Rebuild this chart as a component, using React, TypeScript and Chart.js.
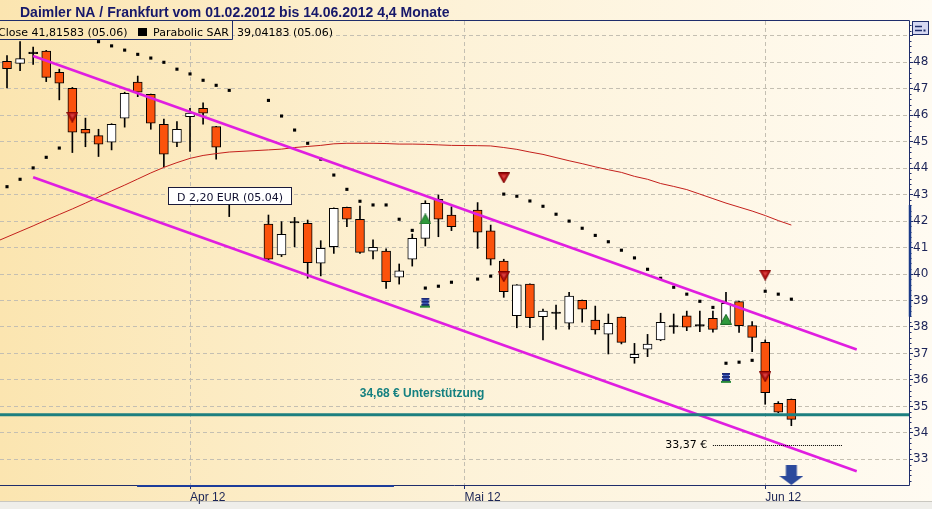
import React, { useEffect, useRef } from 'react';
import { Chart, registerables } from 'chart.js';
Chart.register(...registerables);

const W = 932;
const H = 509;

// trading-day index on a weekday axis (0 = 13.03.2012; 18, 19, 35 are holidays)
const dayIdx = [0,1,2,3,4,5,6,7,8,9,10,11,12,13,14,15,16,17,20,21,22,23,24,25,26,27,28,29,30,31,32,33,34,36,37,38,39,40,41,42,43,44,45,46,47,48,49,50,51,52,53,54,55,56,57,58,59,60];
const openV = [48.04,47.96,48.33,48.42,47.62,47.02,45.47,45.23,44.98,45.89,47.25,46.79,45.66,44.97,45.95,46.26,45.57,42.72,41.89,40.72,41.93,41.92,40.41,41.03,42.52,42.07,40.86,40.87,39.88,40.56,41.35,42.82,42.23,42.42,41.63,40.49,38.43,39.62,38.39,38.51,38.14,39.01,38.26,37.73,38.37,36.84,37.16,37.51,38.00,38.42,38.03,38.33,38.16,38.96,38.05,37.42,35.12,35.27];
const closeV = [47.76,48.14,48.35,47.43,47.21,45.36,45.32,44.91,45.66,46.83,46.87,45.70,44.53,45.47,46.08,46.08,44.79,42.70,40.56,41.50,41.95,40.43,40.97,42.48,42.07,40.82,41.01,39.71,40.12,41.35,42.67,42.07,41.79,41.58,40.56,39.33,39.59,38.35,38.60,38.53,39.17,38.67,37.89,38.14,37.42,36.97,37.35,38.18,38.02,37.99,38.05,37.91,38.89,38.05,37.61,35.52,34.78,34.51];
const highV = [48.25,48.78,48.57,48.45,47.74,47.05,45.89,45.47,45.68,46.87,47.48,46.80,45.85,45.76,46.26,46.47,45.58,42.72,42.23,41.98,42.14,42.04,41.26,42.50,42.53,42.57,41.29,40.95,40.38,41.51,42.77,42.99,42.54,42.70,41.85,40.56,39.60,39.63,38.68,38.83,39.31,39.02,38.79,38.49,38.38,37.38,37.72,38.52,38.49,38.60,38.60,38.60,39.31,38.98,38.20,37.51,35.18,35.28];
const lowV = [47.03,47.68,47.92,47.27,46.58,44.59,44.81,44.44,44.69,45.55,46.70,45.47,44.06,44.81,44.63,45.66,44.34,42.17,40.53,40.66,41.03,39.84,39.93,40.78,41.79,40.78,40.57,39.46,39.62,40.30,41.06,41.41,41.64,40.97,40.34,39.12,37.97,37.97,37.51,37.92,37.92,38.18,37.73,36.98,37.36,36.63,36.88,37.48,37.76,37.86,37.82,37.80,38.10,37.79,37.07,35.08,34.76,34.27];

// moving average of close ("Close")
const maIdx = [-1, ...dayIdx];
const maV = [41.19,41.40,41.61,41.82,42.04,42.25,42.46,42.68,42.91,43.14,43.36,43.59,43.82,44.03,44.21,44.37,44.48,44.55,44.61,44.69,44.72,44.78,44.82,44.86,44.92,44.94,44.94,44.94,44.93,44.91,44.91,44.90,44.88,44.86,44.85,44.84,44.78,44.71,44.61,44.52,44.40,44.28,44.17,44.05,43.94,43.84,43.69,43.58,43.42,43.31,43.19,43.02,42.85,42.68,42.53,42.38,42.21,42.02,41.85];

// Parabolic SAR, aligned with dayIdx
const sarV = [43.30,43.58,44.01,44.41,44.76,49.20,48.98,48.78,48.62,48.46,48.30,48.16,48.00,47.74,47.56,47.32,47.13,46.94,46.56,45.97,45.44,44.94,44.34,43.74,43.20,42.75,42.61,42.61,42.07,41.65,39.47,39.54,39.69,39.81,39.92,43.02,42.94,42.76,42.56,42.26,42.00,41.73,41.46,41.22,40.90,40.61,40.18,39.84,39.50,39.24,38.97,38.74,36.63,36.67,36.74,39.35,39.24,39.05];

const monthTickIdx = [14, 35, 58];
const monthTickLabels = ['Apr 12', 'Mai 12', 'Jun 12'];
const yTickValues = [33,34,35,36,37,38,39,40,41,42,43,44,45,46,47,48,49];
const yLabelMax = 48;

const upperChannelIdx = [2, 65];
const upperChannelV = [48.24, 37.15];
const lowerChannelIdx = [2, 65];
const lowerChannelV = [43.66, 32.55];

const supportLevel = 34.68;
const supportText = '34,68 € Unterstützung';
const supportTextIdx = 31.75;
const lowLevel = 33.37;
const lowText = '33,37 €';
const lowTextEndIdx = 53.56;
const lowLineIdx = [54.0, 63.9];

const dividendIdx = 17;
const dividendText = 'D 2,20 EUR (05.04)';

const sellIdx = [5, 38, 38, 58, 58];
const sellV = [45.93, 43.63, 39.90, 39.96, 36.12];
const buyIdx = [32, 55];
const buyV = [42.08, 38.29];
const stackIdx = [32, 55];
const stackV = [38.90, 36.06];
const arrowIdx = [60];
const arrowV = [32.41];

const axisRangeV = [38.39, 42.61];
const navRangeIdx = [9.95, 29.6];

const xMin = -0.536;
const xMax = 69.0;
const yMin = 32.03;
const yMax = 49.56;

const titleText = 'Daimler NA / Frankfurt vom 01.02.2012 bis 14.06.2012 4,4 Monate';
const legendClose = 'Close 41,81583 (05.06)';
const legendSarName = 'Parabolic SAR';
const legendSarValue = '39,04183 (05.06)';

const NAVY = '#1f2d6b';
const ORANGE = '#fb520c';

function makeIcon(w: number, h: number, draw: (c: CanvasRenderingContext2D) => void) {
  const c = document.createElement('canvas');
  c.width = w;
  c.height = h;
  const g = c.getContext('2d') as CanvasRenderingContext2D;
  draw(g);
  return c;
}

export default function App() {
  const ref = useRef<HTMLCanvasElement>(null);
  useEffect(() => {
    const canvas = ref.current;
    if (!canvas) return;

    const sellIcon = makeIcon(12, 11, (g) => {
      g.beginPath(); g.moveTo(0.5, 0.5); g.lineTo(11.5, 0.5); g.lineTo(6, 10.5); g.closePath();
      g.fillStyle = '#b51414'; g.fill(); g.strokeStyle = '#7a0000'; g.lineWidth = 1; g.stroke();
      g.beginPath(); g.moveTo(3.5, 2.5); g.lineTo(8.5, 2.5); g.lineTo(6, 6.5); g.closePath();
      g.fillStyle = '#d84040'; g.fill();
    });
    const buyIcon = makeIcon(12, 11, (g) => {
      g.beginPath(); g.moveTo(6, 0.5); g.lineTo(11.5, 10.5); g.lineTo(0.5, 10.5); g.closePath();
      g.fillStyle = '#2f9a3c'; g.fill(); g.strokeStyle = '#1c6b28'; g.lineWidth = 1; g.stroke();
    });
    const stackIcon = makeIcon(10, 11, (g) => {
      g.fillStyle = '#1c2a78'; g.fillRect(1, 0, 8, 2);
      g.fillStyle = '#4a6ad0'; g.fillRect(2, 2, 6, 1);
      g.fillStyle = '#1c2a78'; g.fillRect(1, 3, 8, 2);
      g.fillStyle = '#4a6ad0'; g.fillRect(2, 5, 6, 1);
      g.fillStyle = '#1c2a78'; g.fillRect(1, 6, 8, 2);
      g.fillStyle = '#2a8a3a'; g.fillRect(0, 8, 10, 2);
    });
    const arrowIcon = makeIcon(24, 20, (g) => {
      g.fillStyle = '#2c4a9c';
      g.fillRect(6.5, 0, 11, 12);
      g.beginPath(); g.moveTo(0, 11); g.lineTo(24, 11); g.lineTo(12, 20); g.closePath(); g.fill();
    });

    const pts = (xs: number[], ys: number[]) => xs.map((x, k) => ({ x, y: ys[k] }));
    const isDoji = (k: number) => Math.abs(openV[k] - closeV[k]) < 0.05;

    const makeBg = (ctx: CanvasRenderingContext2D) => {
      const g = ctx.createLinearGradient(0, 0, W, 0);
      g.addColorStop(0, '#fbe5b0');
      g.addColorStop(0.5, '#fdf2d8');
      g.addColorStop(1, '#fffbf2');
      return g;
    };

    const deco = {
      id: 'deco',
      beforeDraw(chart: any) {
        const ctx = chart.ctx as CanvasRenderingContext2D;
        ctx.save();
        ctx.fillStyle = makeBg(ctx);
        ctx.fillRect(0, 0, W, H);
        ctx.fillStyle = '#efeeea';
        ctx.fillRect(0, 501, W, H - 501);
        ctx.strokeStyle = '#c9c7c0';
        ctx.lineWidth = 1;
        ctx.beginPath(); ctx.moveTo(0, 501.5); ctx.lineTo(W, 501.5); ctx.stroke();
        // title
        ctx.font = 'bold 14px "Liberation Sans"';
        const tw = ctx.measureText(titleText).width;
        const sx = Math.min(1, 485 / tw);
        ctx.translate(20, 16.5);
        ctx.scale(sx, 1);
        ctx.fillStyle = '#16186a';
        ctx.textBaseline = 'alphabetic';
        ctx.textAlign = 'left';
        ctx.fillText(titleText, 0, 0);
        ctx.restore();
      },
      afterDatasetsDraw(chart: any) {
        const ctx = chart.ctx as CanvasRenderingContext2D;
        const xs = chart.scales.x;
        const ys = chart.scales.y;
        const area = chart.chartArea;
        const px = (v: number) => xs.getPixelForValue(v);
        const py = (v: number) => ys.getPixelForValue(v);
        ctx.save();

        // support label
        ctx.font = 'bold 12px "Liberation Sans"';
        ctx.fillStyle = '#158080';
        ctx.textAlign = 'center';
        ctx.textBaseline = 'alphabetic';
        ctx.fillText(supportText, px(supportTextIdx), py(supportLevel) - 18);

        // low level dotted line + label
        const ly = Math.round(py(lowLevel) - 4.5) + 0.5;
        ctx.strokeStyle = '#000';
        ctx.lineWidth = 1;
        ctx.setLineDash([1, 1]);
        ctx.beginPath(); ctx.moveTo(px(lowLineIdx[0]), ly); ctx.lineTo(px(lowLineIdx[1]), ly); ctx.stroke();
        ctx.setLineDash([]);
        ctx.font = '11px "DejaVu Sans"';
        ctx.fillStyle = '#000';
        ctx.textAlign = 'right';
        ctx.fillText(lowText, px(lowTextEndIdx), ly + 2.5);

        // dividend box
        const bx = px(dividendIdx);
        const bBottom = Math.round(py(highV[dayIdx.indexOf(dividendIdx)]) + 2) + 0.5;
        const bw = 123, bh = 17;
        const bl = Math.round(bx - bw / 2) + 0.5;
        ctx.fillStyle = '#ffffff';
        ctx.fillRect(bl, bBottom - bh, bw, bh);
        ctx.strokeStyle = '#1a1a3a';
        ctx.strokeRect(bl, bBottom - bh, bw, bh);
        ctx.fillStyle = '#101030';
        ctx.textAlign = 'center';
        ctx.font = '11px "DejaVu Sans"';
        ctx.fillText(dividendText, bl + bw / 2, bBottom - 4);

        // legend box
        ctx.fillStyle = makeBg(ctx);
        ctx.fillRect(0, 21, 232, 18);
        ctx.strokeStyle = NAVY;
        ctx.beginPath(); ctx.moveTo(0, 39.5); ctx.lineTo(232.5, 39.5); ctx.lineTo(232.5, 20.5); ctx.stroke();
        ctx.font = '11px "DejaVu Sans"';
        ctx.fillStyle = '#000';
        ctx.textAlign = 'left';
        ctx.fillText(legendClose, -2, 35.5);
        ctx.fillRect(138, 28, 9, 8);
        ctx.fillText(legendSarName, 153, 35.5);
        ctx.fillText(legendSarValue, 237, 35.5);

        // frame
        ctx.strokeStyle = NAVY;
        ctx.lineWidth = 1;
        ctx.beginPath();
        ctx.moveTo(0, area.top - 0.5); ctx.lineTo(area.right + 0.5, area.top - 0.5);
        ctx.lineTo(area.right + 0.5, area.bottom + 0.5); ctx.lineTo(0, area.bottom + 0.5);
        ctx.stroke();

        // minor ticks on the price axis
        ctx.beginPath();
        for (let v = Math.ceil(yMin * 5) / 5; v <= yMax; v += 0.2) {
          const r = Math.round(v * 5) / 5;
          if (Math.abs(r - Math.round(r)) < 0.01) continue;
          const y = Math.round(py(r)) + 0.5;
          ctx.moveTo(area.right, y); ctx.lineTo(area.right + 2.5, y);
        }
        ctx.stroke();

        // range markers on axes
        ctx.strokeStyle = '#1a3a8a';
        ctx.lineWidth = 2.5;
        ctx.beginPath(); ctx.moveTo(area.right + 1, py(axisRangeV[0])); ctx.lineTo(area.right + 1, py(axisRangeV[1])); ctx.stroke();
        ctx.strokeStyle = '#1c3c9a';
        ctx.lineWidth = 2;
        ctx.beginPath(); ctx.moveTo(px(navRangeIdx[0]), area.bottom + 1); ctx.lineTo(px(navRangeIdx[1]), area.bottom + 1); ctx.stroke();

        // options button
        ctx.lineWidth = 1;
        ctx.fillStyle = '#d6d8f2';
        ctx.fillRect(912.5, 21.5, 16, 13);
        ctx.strokeStyle = NAVY;
        ctx.strokeRect(912.5, 21.5, 16, 13);
        ctx.lineWidth = 1.5;
        ctx.beginPath(); ctx.moveTo(915, 26.5); ctx.lineTo(922, 26.5); ctx.moveTo(915, 30.5); ctx.lineTo(922, 30.5); ctx.stroke();
        ctx.fillStyle = NAVY;
        ctx.fillRect(923.5, 29.5, 2, 2);
        ctx.restore();
      },
    };

    const chart = new Chart(canvas, {
      type: 'bar',
      data: {
        datasets: [
          {
            type: 'bar',
            data: dayIdx.map((d, k) => ({ x: d, y: [lowV[k], highV[k]] })) as any,
            backgroundColor: '#000',
            borderWidth: 0,
            barThickness: 1,
            grouped: false,
            order: 10,
          } as any,
          {
            type: 'bar',
            data: dayIdx.map((d, k) => ({ x: d, y: [openV[k], closeV[k]] })) as any,
            backgroundColor: (c: any) => {
              const k = c.dataIndex;
              if (isDoji(k)) return '#000';
              return closeV[k] >= openV[k] ? '#ffffff' : ORANGE;
            },
            borderColor: '#000',
            borderWidth: 1,
            borderSkipped: false,
            barThickness: 9,
            minBarLength: 1.5,
            grouped: false,
            order: 9,
          } as any,
          {
            type: 'line',
            data: pts(maIdx, maV),
            borderColor: '#c4201c',
            borderWidth: 1,
            pointRadius: 0,
            tension: 0,
            order: 8,
          },
          {
            type: 'scatter',
            data: pts(dayIdx, sarV),
            pointStyle: 'rect',
            pointRadius: 2.2,
            backgroundColor: '#000',
            borderWidth: 0,
            order: 7,
          },
          {
            type: 'line',
            data: pts(upperChannelIdx, upperChannelV),
            borderColor: '#e01ee0',
            borderWidth: 2.6,
            pointRadius: 0,
            order: 6,
          },
          {
            type: 'line',
            data: pts(lowerChannelIdx, lowerChannelV),
            borderColor: '#e01ee0',
            borderWidth: 2.6,
            pointRadius: 0,
            order: 6,
          },
          {
            type: 'line',
            data: [{ x: xMin, y: supportLevel }, { x: xMax, y: supportLevel }],
            borderColor: '#1d7f7f',
            borderWidth: 3,
            pointRadius: 0,
            order: 5,
          },
          {
            type: 'scatter',
            data: pts(sellIdx, sellV),
            pointStyle: sellIcon as any,
            pointRadius: 5,
            order: 1,
          },
          {
            type: 'scatter',
            data: pts(buyIdx, buyV),
            pointStyle: buyIcon as any,
            pointRadius: 5,
            order: 1,
          },
          {
            type: 'scatter',
            data: pts(stackIdx, stackV),
            pointStyle: stackIcon as any,
            pointRadius: 5,
            order: 1,
          },
          {
            type: 'scatter',
            data: pts(arrowIdx, arrowV),
            pointStyle: arrowIcon as any,
            pointRadius: 5,
            order: 1,
          },
        ] as any,
      },
      options: {
        responsive: false,
        animation: false,
        events: [],
        layout: { autoPadding: false, padding: { top: 21, left: 0, right: 0, bottom: 0 } },
        plugins: {
          legend: { display: false },
          tooltip: { enabled: false },
          title: { display: false },
        },
        scales: {
          x: {
            type: 'linear',
            min: xMin,
            max: xMax,
            offset: false,
            afterBuildTicks: (s: any) => { s.ticks = monthTickIdx.map((v) => ({ value: v })); },
            afterFit: (s: any) => { s.height = 24; s.paddingLeft = 0; s.paddingRight = 0; },
            ticks: {
              callback: (_v: any, i: number) => monthTickLabels[i] ?? '',
              align: 'start',
              autoSkip: false,
              maxRotation: 0,
              font: { family: 'Liberation Sans', size: 12 },
              color: '#1a2456',
              padding: 1,
            },
            grid: { offset: false, color: '#c4bfb2', lineWidth: 1, tickLength: 4, tickColor: NAVY },
            border: { display: false, dash: [4, 3] },
          },
          y: {
            type: 'linear',
            position: 'right',
            min: yMin,
            max: yMax,
            afterBuildTicks: (s: any) => { s.ticks = yTickValues.map((v) => ({ value: v })); },
            afterFit: (s: any) => { s.width = 23; s.paddingTop = 0; s.paddingBottom = 0; },
            ticks: {
              callback: (v: any) => (v <= yLabelMax ? String(v) : ''),
              font: { family: 'DejaVu Sans', size: 12 },
              color: '#1c2458',
              padding: 0,
            },
            grid: { offset: false, color: '#c4bfb2', lineWidth: 1, tickLength: 4, tickColor: NAVY },
            border: { display: false, dash: [4, 3] },
          },
        },
      } as any,
      plugins: [deco],
    });
    return () => chart.destroy();
  }, []);

  return (
    <canvas
      ref={ref}
      width={W}
      height={H}
      style={{ position: 'fixed', left: 0, top: 0, width: W, height: H, display: 'block' }}
    />
  );
}
